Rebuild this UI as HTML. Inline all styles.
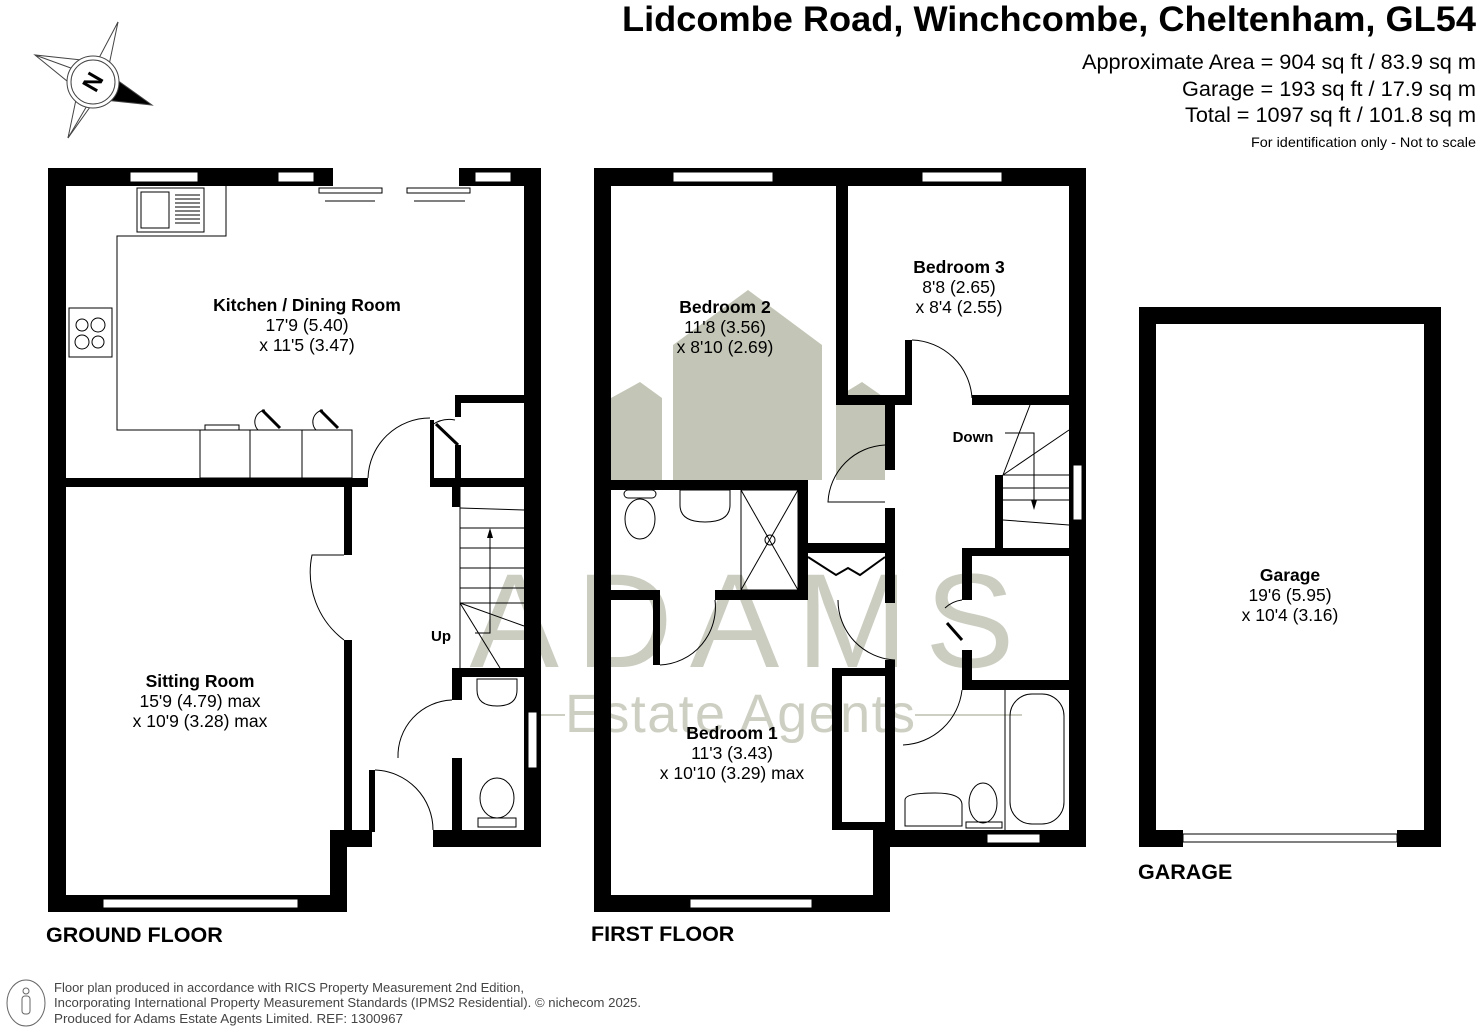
<!DOCTYPE html>
<html><head><meta charset="utf-8"><style>
html,body{margin:0;padding:0;background:#fff}
svg{display:block}
text{font-family:"Liberation Sans",Arial,sans-serif}
.b{font-weight:bold}
</style></head><body>
<svg width="1480" height="1032" viewBox="0 0 1480 1032" xmlns="http://www.w3.org/2000/svg">
<rect width="1480" height="1032" fill="#fff"/>

<!-- watermark -->
<g fill="#c3c6b6">
<polygon points="611,398 640,382 662,398 662,480 611,480"/>
<polygon points="673,345 748,290 822,345 822,480 673,480"/>
<polygon points="836,398 862,382 885,398 885,480 836,480"/>
</g>
<text x="742" y="667" font-size="134" fill="#cbcdc1" text-anchor="middle" textLength="545" lengthAdjust="spacing">ADAMS</text>
<text x="740" y="732" font-size="54" fill="#cdcfc3" text-anchor="middle" textLength="350" lengthAdjust="spacing">Estate Agents</text>
<line x1="535" y1="715" x2="565" y2="715" stroke="#cdcfc3" stroke-width="2"/>
<line x1="915" y1="715" x2="1022" y2="715" stroke="#cdcfc3" stroke-width="2"/>

<!-- header -->
<text x="1476" y="31" font-size="35" class="b" text-anchor="end" textLength="854" lengthAdjust="spacingAndGlyphs">Lidcombe Road, Winchcombe, Cheltenham, GL54</text>
<text x="1476" y="69" font-size="21" text-anchor="end" textLength="394" lengthAdjust="spacingAndGlyphs">Approximate Area = 904 sq ft / 83.9 sq m</text>
<text x="1476" y="96" font-size="21" text-anchor="end" textLength="294" lengthAdjust="spacingAndGlyphs">Garage = 193 sq ft / 17.9 sq m</text>
<text x="1476" y="122" font-size="21" text-anchor="end" textLength="291" lengthAdjust="spacingAndGlyphs">Total = 1097 sq ft / 101.8 sq m</text>
<text x="1476" y="147" font-size="14" text-anchor="end" textLength="225" lengthAdjust="spacingAndGlyphs">For identification only - Not to scale</text>

<!-- compass -->
<g stroke="#444" stroke-width="1" fill="#fff">
<polygon points="118,22 100,62 35,55 80,88 68,138 95,100"/>
<polygon points="118,22 108,70 68,138 78,90 35,55 90,75"/>
<polygon points="152,105 110,75 105,100" fill="#000"/>
<circle cx="93" cy="82" r="26"/>
<circle cx="93" cy="82" r="22"/>
</g>
<text x="93" y="90" font-size="24" class="b" text-anchor="middle" transform="rotate(-60 93 82)">N</text>

<!-- ===== GROUND FLOOR ===== -->
<g fill="#000">
<rect x="48" y="168" width="18" height="744"/>
<rect x="48" y="168" width="285" height="18"/>
<rect x="459" y="168" width="82" height="18"/>
<rect x="524" y="168" width="17" height="679"/>
<rect x="48" y="895" width="299" height="17"/>
<rect x="330" y="830" width="17" height="82"/>
<rect x="330" y="830" width="42" height="17"/>
<rect x="433" y="830" width="108" height="17"/>
<rect x="66" y="478" width="302" height="9"/>
<rect x="430" y="478" width="94" height="9"/>
<rect x="344" y="487" width="8" height="68"/>
<rect x="344" y="640" width="8" height="190"/>
<rect x="369" y="770" width="6" height="62"/>
<rect x="455" y="395" width="69" height="8"/>
<rect x="455" y="395" width="6" height="22"/>
<rect x="430" y="420" width="4" height="60"/>
<rect x="455" y="445" width="6" height="35"/>
<rect x="452" y="487" width="8" height="20"/>
<rect x="452" y="668" width="72" height="9"/>
<rect x="452" y="668" width="10" height="32"/>
<rect x="452" y="758" width="10" height="74"/>
</g>
<g fill="#fff" stroke="#000" stroke-width="1">
<rect x="130" y="172" width="68" height="10"/>
<rect x="278" y="172" width="36" height="10"/>
<rect x="475" y="172" width="36" height="10"/>
<rect x="103" y="899" width="195" height="9"/>
<rect x="528" y="712" width="9" height="56"/>
</g>
<g fill="none" stroke="#000" stroke-width="1">
<rect x="319" y="188" width="63" height="5"/>
<rect x="407" y="188" width="63" height="5"/>
<line x1="325" y1="201" x2="375" y2="201"/><line x1="414" y1="201" x2="465" y2="201"/>
<polyline points="226,186 226,236 117,236 117,430 352,430 352,478"/>
<rect x="137" y="188" width="67" height="44"/>
<rect x="141" y="192" width="28" height="36"/>
<line x1="175" y1="195" x2="200" y2="195"/><line x1="175" y1="199" x2="200" y2="199"/><line x1="175" y1="203" x2="200" y2="203"/><line x1="175" y1="207" x2="200" y2="207"/><line x1="175" y1="211" x2="200" y2="211"/><line x1="175" y1="215" x2="200" y2="215"/><line x1="175" y1="219" x2="200" y2="219"/><line x1="175" y1="223" x2="200" y2="223"/>
<rect x="69" y="308" width="43" height="49"/>
<circle cx="82" cy="325" r="6"/><circle cx="98" cy="325" r="7"/><circle cx="82" cy="342" r="7"/><circle cx="98" cy="342" r="6"/>
<rect x="200" y="430" width="50" height="48"/><rect x="250" y="430" width="52" height="48"/><rect x="302" y="430" width="50" height="48"/>
<rect x="205" y="425" width="34" height="5"/>
<path d="M258,430 A12,12 0 0 1 265,410"/><path d="M316,430 A12,12 0 0 1 323,410"/>
<path d="M368,478 A62,62 0 0 1 430,418"/>
<path d="M344,555 L312,555 A85,85 0 0 0 344,640"/>
<path d="M433,830 A60,60 0 0 0 375,770"/>
<path d="M398,758 A56,56 0 0 1 452,700"/>
<path d="M432,425 A30,30 0 0 1 455,420"/>
<line x1="460" y1="508" x2="524" y2="510"/><line x1="460" y1="528" x2="524" y2="528"/><line x1="460" y1="548" x2="524" y2="548"/><line x1="460" y1="568" x2="524" y2="568"/><line x1="460" y1="588" x2="524" y2="588"/><line x1="460" y1="603" x2="524" y2="626"/><line x1="460" y1="603" x2="500" y2="668"/><line x1="460" y1="603" x2="524" y2="603"/>
<line x1="460" y1="487" x2="460" y2="668"/>
<polyline points="475,633 490,633 490,530"/>
<path d="M477,679 L517,679 L517,690 Q517,706 497,706 Q477,706 477,690 Z"/>
<ellipse cx="497" cy="798" rx="17" ry="20"/><rect x="478" y="818" width="38" height="9"/>
</g>
<polygon points="490,528 487,538 493,538" fill="#000"/>
<path d="M436,424 L458,445" stroke="#000" stroke-width="3"/>
<path d="M262,410 L280,428 M320,410 L338,428" stroke="#000" stroke-width="3"/>

<g font-size="17.5" text-anchor="middle">
<text x="307" y="311" class="b">Kitchen / Dining Room</text>
<text x="307" y="331">17'9 (5.40)</text>
<text x="307" y="351">x 11'5 (3.47)</text>
<text x="200" y="687" class="b">Sitting Room</text>
<text x="200" y="707">15'9 (4.79) max</text>
<text x="200" y="727">x 10'9 (3.28) max</text>
</g>
<text x="441" y="641" font-size="15" class="b" text-anchor="middle">Up</text>
<text x="46" y="942" font-size="21.5" class="b">GROUND FLOOR</text>

<!-- ===== FIRST FLOOR ===== -->
<g fill="#000">
<rect x="594" y="168" width="17" height="744"/>
<rect x="594" y="168" width="492" height="18"/>
<rect x="1069" y="168" width="17" height="679"/>
<rect x="594" y="895" width="296" height="17"/>
<rect x="873" y="830" width="17" height="82"/>
<rect x="873" y="830" width="213" height="17"/>
<rect x="836" y="186" width="12" height="219"/>
<rect x="836" y="395" width="76" height="10"/>
<rect x="905" y="340" width="7" height="65"/>
<rect x="972" y="395" width="97" height="10"/>
<rect x="885" y="405" width="10" height="65"/>
<rect x="885" y="508" width="10" height="95"/>
<rect x="611" y="480" width="197" height="10"/>
<rect x="798" y="480" width="10" height="120"/>
<rect x="611" y="590" width="47" height="10"/>
<rect x="715" y="590" width="93" height="10"/>
<rect x="653" y="590" width="7" height="75"/>
<rect x="808" y="543" width="87" height="10"/>
<rect x="885" y="660" width="10" height="170"/>
<rect x="832" y="668" width="10" height="162"/>
<rect x="832" y="668" width="63" height="8"/>
<rect x="832" y="822" width="63" height="8"/>
<rect x="995" y="475" width="8" height="73"/>
<rect x="962" y="548" width="107" height="8"/>
<rect x="962" y="548" width="10" height="52"/>
<rect x="962" y="650" width="10" height="40"/>
<rect x="962" y="680" width="107" height="10"/>
</g>
<g fill="#fff" stroke="#000" stroke-width="1">
<rect x="673" y="172" width="100" height="10"/>
<rect x="922" y="172" width="80" height="10"/>
<rect x="690" y="899" width="122" height="9"/>
<rect x="987" y="834" width="53" height="9"/>
<rect x="1073" y="465" width="9" height="55"/>
<rect x="1183" y="834" width="214" height="8"/>
</g>
<g fill="none" stroke="#000" stroke-width="1">
<path d="M912,340 A62,62 0 0 1 972,398"/>
<path d="M885,445 A60,60 0 0 0 828,502 L885,502"/>
<path d="M660,665 A58,58 0 0 0 715,600"/>
<path d="M838,600 A60,60 0 0 0 895,660"/>
<path d="M903,745 A62,62 0 0 0 962,690"/>
<path d="M945,608 A30,30 0 0 1 962,600"/>
<rect x="741" y="490" width="57" height="100"/>
<line x1="741" y1="490" x2="798" y2="590"/><line x1="798" y1="490" x2="741" y2="590"/>
<circle cx="770" cy="540" r="5"/>
<ellipse cx="640" cy="519" rx="15" ry="20"/><rect x="624" y="490" width="32" height="8" rx="4"/>
<path d="M680,490 L730,490 L730,505 Q730,522 705,522 Q680,522 680,505 Z"/>
<line x1="1003" y1="475" x2="1069" y2="475"/><line x1="1003" y1="488" x2="1069" y2="488"/><line x1="1003" y1="500" x2="1069" y2="500"/><line x1="1003" y1="520" x2="1069" y2="525"/>
<line x1="1003" y1="475" x2="1069" y2="430"/><line x1="1003" y1="475" x2="1030" y2="405"/>
<polyline points="1005,433 1034,433 1034,500"/>
<line x1="1005" y1="690" x2="1005" y2="830"/>
<rect x="1010" y="694" width="54" height="130" rx="22"/>
<path d="M905,800 Q905,793 935,793 Q962,793 962,805 L962,826 L905,826 Z"/>
<ellipse cx="983" cy="803" rx="14" ry="20"/><rect x="966" y="822" width="36" height="6"/>
<line x1="836" y1="710" x2="836" y2="775" stroke-width="3"/>
</g>
<polygon points="1034,510 1031,500 1037,500" fill="#000"/>
<path d="M808,557 L836,575 L848,568 L860,575 L885,557" stroke="#000" stroke-width="2" fill="none"/>
<path d="M947,623 L962,640" stroke="#000" stroke-width="3"/>

<g font-size="17.5" text-anchor="middle">
<text x="725" y="313" class="b">Bedroom 2</text>
<text x="725" y="333">11'8 (3.56)</text>
<text x="725" y="353">x 8'10 (2.69)</text>
<text x="959" y="273" class="b">Bedroom 3</text>
<text x="959" y="293">8'8 (2.65)</text>
<text x="959" y="313">x 8'4 (2.55)</text>
<text x="732" y="739" class="b">Bedroom 1</text>
<text x="732" y="759">11'3 (3.43)</text>
<text x="732" y="779">x 10'10 (3.29) max</text>
<text x="1290" y="581" class="b">Garage</text>
<text x="1290" y="601">19'6 (5.95)</text>
<text x="1290" y="621">x 10'4 (3.16)</text>
</g>
<text x="973" y="442" font-size="15" class="b" text-anchor="middle">Down</text>
<text x="591" y="941" font-size="21.5" class="b">FIRST FLOOR</text>

<!-- ===== GARAGE ===== -->
<g fill="#000">
<rect x="1139" y="307" width="302" height="17"/>
<rect x="1139" y="307" width="17" height="540"/>
<rect x="1424" y="307" width="17" height="540"/>
<rect x="1139" y="830" width="44" height="17"/>
<rect x="1397" y="830" width="44" height="17"/>
</g>
<text x="1138" y="879" font-size="21.5" class="b">GARAGE</text>

<!-- footer -->
<ellipse cx="26" cy="1003" rx="19" ry="23" fill="none" stroke="#666" stroke-width="1"/>
<circle cx="26" cy="991" r="3" fill="none" stroke="#666"/>
<rect x="22" y="996" width="8" height="18" rx="3" fill="none" stroke="#666"/>
<g font-size="13" fill="#444">
<text x="54" y="992" textLength="470" lengthAdjust="spacingAndGlyphs">Floor plan produced in accordance with RICS Property Measurement 2nd Edition,</text>
<text x="54" y="1007" textLength="587" lengthAdjust="spacingAndGlyphs">Incorporating International Property Measurement Standards (IPMS2 Residential).   © nichecom 2025.</text>
<text x="54" y="1023" textLength="349" lengthAdjust="spacingAndGlyphs">Produced for Adams Estate Agents Limited.   REF:  1300967</text>
</g>
</svg>
</body></html>
